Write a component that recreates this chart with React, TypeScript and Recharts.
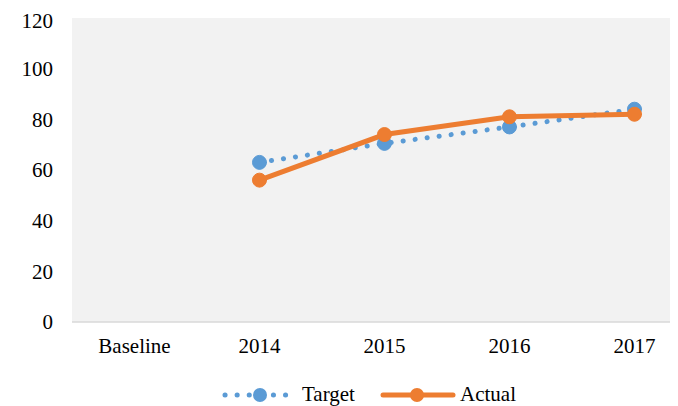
import React from "react";
import { LineChart, Line, XAxis, YAxis, CartesianGrid, Legend } from "recharts";

const categories = ["Baseline", "2014", "2015", "2016", "2017"];
const targetValues: (number | null)[] = [null, 63, 70.5, 77, 84];
const actualValues: (number | null)[] = [null, 56, 74, 81, 82];
const yTicks = [0, 20, 40, 60, 80, 100, 120];

const data = categories.map((c, i) => ({ name: c, Target: targetValues[i], Actual: actualValues[i] }));

const BLUE = "#5B9BD5";
const ORANGE = "#ED7D31";
const FONT = "'Liberation Serif', 'Times New Roman', serif";

const LegendContent = () => (
  <div style={{ position: "relative", width: 700, height: 34, fontFamily: FONT, fontSize: 21, color: "#000" }}>
    <svg width={70} height={20} style={{ position: "absolute", left: 212, top: 13 }}>
      <line x1={5} y1={10} x2={68} y2={10} stroke={BLUE} strokeWidth={5} strokeDasharray="0.1 12" strokeLinecap="round" />
      <circle cx={40} cy={10} r={7} fill={BLUE} />
    </svg>
    <span style={{ position: "absolute", left: 294, top: 11, lineHeight: "23px" }}>Target</span>
    <svg width={76} height={20} style={{ position: "absolute", left: 372, top: 13 }}>
      <line x1={3} y1={10} x2={73} y2={10} stroke={ORANGE} strokeWidth={5} strokeLinecap="round" />
      <circle cx={37} cy={10} r={7} fill={ORANGE} />
    </svg>
    <span style={{ position: "absolute", left: 452, top: 11, lineHeight: "23px" }}>Actual</span>
  </div>
);

export default function App() {
  return (
    <div style={{ width: 670, height: 398, overflow: "hidden" }}>
      <LineChart width={700} height={398} data={data} margin={{ top: 10, right: 11, left: 0, bottom: 0 }}>
        <CartesianGrid horizontal={false} vertical={false} fill="#f2f2f2" stroke="none" />
        <XAxis
          dataKey="name"
          padding={{ left: 62.5, right: 62.5 }}
          height={50}
          tickSize={0}
          tickMargin={16}
          axisLine={{ stroke: "#d9d9d9", strokeWidth: 1.5 }}
          tickLine={false}
          tick={{ fill: "#000", fontSize: 21, fontFamily: FONT }}
        />
        <YAxis
          width={64}
          domain={[0, 120]}
          ticks={yTicks}
          tickSize={0}
          tickMargin={19}
          axisLine={false}
          tickLine={false}
          tick={{ fill: "#000", fontSize: 21, fontFamily: FONT }}
        />
        <Legend verticalAlign="bottom" content={<LegendContent />} />
        <Line
          dataKey="Target"
          stroke={BLUE}
          strokeWidth={5}
          strokeDasharray="0.1 12"
          strokeLinecap="round"
          dot={{ r: 7, fill: BLUE, stroke: BLUE, strokeWidth: 1, strokeDasharray: "" }}
          activeDot={false}
          isAnimationActive={false}
        />
        <Line
          dataKey="Actual"
          stroke={ORANGE}
          strokeWidth={5}
          strokeLinecap="round"
          dot={{ r: 7, fill: ORANGE, stroke: ORANGE, strokeWidth: 1 }}
          activeDot={false}
          isAnimationActive={false}
        />
      </LineChart>
    </div>
  );
}
